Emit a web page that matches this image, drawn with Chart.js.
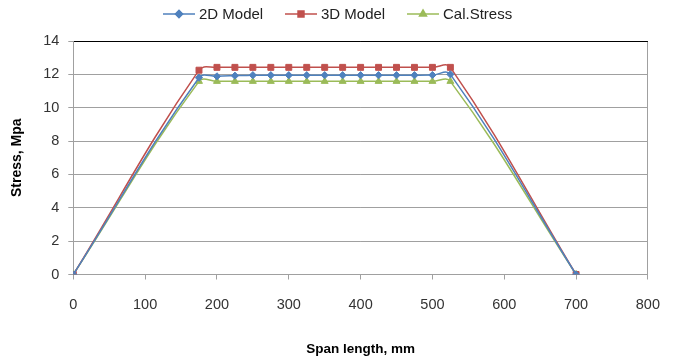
<!DOCTYPE html>
<html><head><meta charset="utf-8">
<script src="https://cdn.jsdelivr.net/npm/chart.js@4.4.0/dist/chart.umd.min.js"></script>
<style>html,body{margin:0;padding:0;background:#fff;overflow:hidden;}</style>
</head><body>
<canvas id="c" width="677" height="362" style="display:block;width:677px;height:362px"></canvas>
<script>
// ---- data ----
const spanX     = [0, 175, 200, 225, 250, 275, 300, 325, 350, 375, 400, 425, 450, 475, 500, 525, 700];
const model2D   = [0, 11.80, 11.88, 11.92, 11.95, 11.95, 11.95, 11.95, 11.95, 11.95, 11.95, 11.95, 11.95, 11.95, 11.96, 12.00, 0];
const model3D   = [0, 12.25, 12.42, 12.42, 12.42, 12.42, 12.42, 12.42, 12.42, 12.42, 12.42, 12.42, 12.42, 12.42, 12.42, 12.42, 0];
const calStress = [0, 11.58, 11.58, 11.58, 11.58, 11.58, 11.58, 11.58, 11.58, 11.58, 11.58, 11.58, 11.58, 11.58, 11.58, 11.58, 0];
const seriesNames = ['2D Model', '3D Model', 'Cal.Stress'];
const xTicks = [0, 100, 200, 300, 400, 500, 600, 700, 800];
const yTicks = [0, 2, 4, 6, 8, 10, 12, 14];
const xTitle = 'Span length, mm';
const yTitle = 'Stress, Mpa';

const FONT = "'Liberation Sans', Arial, sans-serif";
const colors = ['#4F81BD', '#C0504D', '#9BBB59'];
const styles = ['rectRot', 'rect', 'triangle'];
const radii = [3.6, 4.2, 4];
const seriesValues = [model2D, model3D, calStress];

const datasets = seriesValues.map((vals, i) => ({
  label: seriesNames[i],
  data: spanX.map((x, j) => ({x: x, y: vals[j]})),
  borderColor: colors[i],
  backgroundColor: colors[i],
  pointBackgroundColor: colors[i],
  pointBorderColor: colors[i],
  pointStyle: styles[i],
  pointRadius: radii[i],
  pointBorderWidth: 1,
  borderWidth: 1.5,
  tension: 0.4,
  fill: false
}));

const legendPlugin = {
  id: 'customLegend',
  afterDraw(chart) {
    const ctx = chart.ctx;
    const starts = [163, 285, 407];
    const y = 14;
    ctx.save();
    ctx.font = '15px ' + FONT;
    ctx.textBaseline = 'middle';
    ctx.textAlign = 'left';
    chart.data.datasets.forEach((ds, i) => {
      const x0 = starts[i];
      ctx.strokeStyle = ds.borderColor;
      ctx.lineWidth = 1.5;
      ctx.beginPath(); ctx.moveTo(x0, y); ctx.lineTo(x0 + 32, y); ctx.stroke();
      ctx.fillStyle = ds.borderColor;
      Chart.helpers.drawPoint(ctx, {pointStyle: ds.pointStyle, radius: ds.pointRadius, borderWidth: 1}, x0 + 16, y);
      ctx.fill();
      ctx.fillStyle = '#222';
      ctx.fillText(ds.label, x0 + 36, y + 1);
    });
    ctx.restore();
  }
};

new Chart(document.getElementById('c'), {
  type: 'line',
  data: {datasets},
  plugins: [legendPlugin],
  options: {
    responsive: false,
    animation: false,
    devicePixelRatio: 1,
    layout: {padding: {top: 41, right: 29, left: 0, bottom: 0}},
    plugins: {legend: {display: false}, tooltip: {enabled: false}},
    scales: {
      x: {
        type: 'linear', min: 0, max: 800,
        afterBuildTicks: (s) => { s.ticks = xTicks.map(v => ({value: v})); },
        afterFit: (s) => { s.height = 87.5; },
        grid: {
          drawOnChartArea: true,
          color: (c) => (c.tick && c.tick.value === 800 ? '#A0A0A0' : 'rgba(0,0,0,0)'),
          tickColor: '#A0A0A0', tickLength: 5, lineWidth: 1
        },
        border: {color: '#A0A0A0', width: 1},
        ticks: {color: '#333', font: {family: FONT, size: 14.5}, padding: 17, maxRotation: 0},
        title: {display: true, text: xTitle, color: '#000', font: {family: FONT, size: 13.5, weight: 'bold'}, padding: {top: 0, bottom: 5}}
      },
      y: {
        type: 'linear', min: 0, max: 14,
        afterBuildTicks: (s) => { s.ticks = yTicks.map(v => ({value: v})); },
        afterFit: (s) => { s.width = 73.3; },
        grid: {
          color: (c) => (c.tick && c.tick.value === 14 ? '#000' : '#A0A0A0'),
          tickColor: '#A0A0A0', tickLength: 5, lineWidth: 1
        },
        border: {color: '#A0A0A0', width: 1},
        ticks: {color: '#333', font: {family: FONT, size: 14.5}, padding: 9},
        title: {display: true, text: yTitle, color: '#000', font: {family: FONT, size: 14, weight: 'bold'}, padding: {top: 9, bottom: 0}}
      }
    }
  }
});
</script>
</body></html>
